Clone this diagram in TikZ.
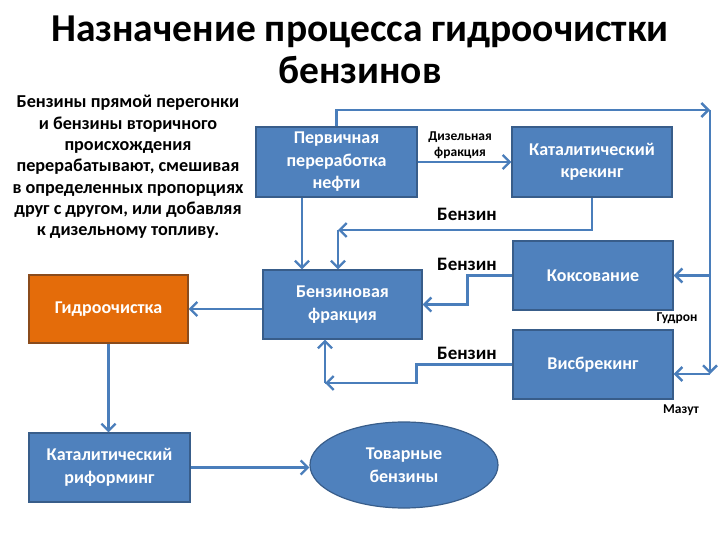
\documentclass[tikz,border=0pt]{standalone}
\usepackage{fontspec}
\setmainfont{Carlito}
\usetikzlibrary{arrows.meta,shapes.geometric}
\definecolor{boxblue}{HTML}{4F81BD}
\definecolor{boxedge}{HTML}{385D8A}
\definecolor{boxorange}{HTML}{E46C0A}
\definecolor{orangeedge}{HTML}{8A4B1C}
\definecolor{linkblue}{HTML}{4A7EBB}
\tikzset{
  procbox/.style={rectangle, fill=boxblue, draw=boxedge, line width=1.2pt,
    text=white, align=center, font=\bfseries\fontsize{18}{22.5}\selectfont,
    minimum width=160pt, minimum height=69pt, inner sep=2pt},
  hotbox/.style={procbox, fill=boxorange, draw=orangeedge},
  prodell/.style={ellipse, fill=boxblue, draw=boxedge, line width=1.2pt,
    text=white, align=center, font=\bfseries\fontsize{18}{22.5}\selectfont,
    minimum width=188pt, minimum height=86pt, inner sep=0pt},
  flow/.style={draw=linkblue, line width=2.8pt,
    -{Straight Barb[length=7pt, width=14pt, line width=2.4pt]}},
  pipe/.style={draw=linkblue, line width=2.8pt},
  streamlbl/.style={font=\bfseries\fontsize{19}{22}\selectfont, align=center},
  smalllbl/.style={font=\bfseries\fontsize{13.5}{15.5}\selectfont, align=center},
}
\begin{document}
\begin{tikzpicture}[x=1pt, y=-1pt]
  \useasboundingbox (0,0) rectangle (720,540);
  % Заголовок и пояснение
  \node[font=\bfseries\fontsize{39.5}{42}\selectfont, align=center] (title) at (360,50)
    {Назначение процесса гидроочистки\\бензинов};
  \node[font=\bfseries\fontsize{18.2}{21.3}\selectfont, align=center] (note) at (128,167)
    {Бензины прямой перегонки\\и бензины вторичного\\происхождения\\перерабатывают, смешивая\\в определенных пропорциях\\друг с другом, или добавляя\\к дизельному топливу.};
  % Установки
  \node[procbox, minimum width=161pt, minimum height=70pt] (perv) at (336.5,162) {Первичная\\переработка\\нефти};
  \node[procbox, minimum height=70pt] (kkrek) at (592,162) {Каталитический\\крекинг};
  \node[procbox, minimum width=159pt] (bfrac) at (342.5,304.5) {Бензиновая\\фракция};
  \node[procbox] (koks) at (593,275.5) {Коксование};
  \node[procbox] (visb) at (593,364.5) {Висбрекинг};
  \node[hotbox, minimum width=159pt, minimum height=68pt] (gidro) at (108.5,309) {Гидроочистка};
  \node[procbox, minimum width=161pt] (rif) at (109.5,467.5) {Каталитический\\риформинг};
  \node[prodell] (tov) at (404,465) {Товарные\\бензины};
  % Узловые точки
  \coordinate (topr) at (710,110);
  \coordinate (botr) at (710,374);
  \coordinate (kret) at (338,230);
  \coordinate (vret) at (325,383);
  % Потоки
  \draw[flow] (perv.east) -- (kkrek.west);
  \draw[flow] (perv.north) |- (topr);
  \draw[flow] (topr) -- (botr);
  \draw[flow] (topr |- koks.east) -- (koks.east);
  \draw[flow] (botr) -- (botr -| visb.east);
  \draw[flow] (kkrek.south) |- (kret);
  \draw[flow] (kret) -- (kret |- bfrac.north);
  \draw[flow] ([xshift=-34.5pt]perv.south) -- ([xshift=-40.5pt]bfrac.north);
  \draw[flow] (koks.west) -- ++(-45,0) |- (bfrac.east);
  \draw[pipe] (visb.west) -- ++(-96,0) |- (vret);
  \draw[flow] ([xshift=-96pt]visb.west) |- (vret);
  \draw[flow] (vret) -- (vret |- bfrac.south);
  \draw[flow] (bfrac.west |- gidro.east) -- (gidro.east);
  \draw[flow] (gidro.south) -- (gidro.south |- rif.north);
  \draw[flow] (rif.east) -- (rif.east -| tov.west);
  % Подписи потоков
  \node[smalllbl] (diz) at (460,145) {Дизельная\\фракция};
  \node[streamlbl] (benz1) at (467,214) {Бензин};
  \node[streamlbl] (benz2) at (467,264) {Бензин};
  \node[streamlbl] (benz3) at (467,353) {Бензин};
  \node[smalllbl] (gudr) at (677,318) {Гудрон};
  \node[smalllbl] (mazut) at (681,410) {Мазут};
\end{tikzpicture}
\end{document}
